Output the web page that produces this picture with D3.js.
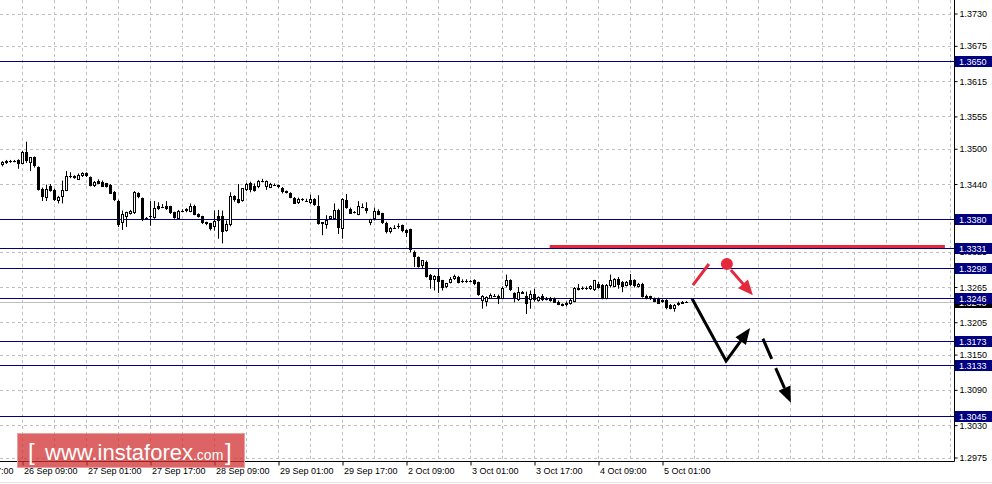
<!DOCTYPE html>
<html><head><meta charset="utf-8">
<script src="https://cdn.jsdelivr.net/npm/d3@7"></script>
<style>html,body{margin:0;padding:0;background:#fff;overflow:hidden}</style>
</head><body><svg id="c" width="992" height="484"></svg>
<script>
// ---------------- DATA ----------------
const opens = [
1.3473,1.3475,1.3479,1.3479,1.3481,1.3474,1.3494,1.3475,1.3486,1.3469,
1.3432,1.3416,1.3437,1.3430,1.3412,1.3418,1.3428,1.3453,1.3453,1.3448,
1.3453,1.3458,1.3452,1.3436,1.3446,1.3444,1.3441,1.3439,1.3426,1.3412,
1.3373,1.3384,1.3390,1.3390,1.3424,1.3416,1.3382,1.3385,1.3382,1.3402,
1.3401,1.3402,1.3402,1.3392,1.3381,1.3395,1.3397,1.3392,1.3403,1.3389,
1.3385,1.3375,1.3373,1.3366,1.3386,1.3386,1.3360,1.3369,1.3419,1.3415,
1.3411,1.3430,1.3441,1.3437,1.3435,1.3446,1.3434,1.3434,1.3439,1.3438,
1.3434,1.3428,1.3425,1.3417,1.3408,1.3414,1.3412,1.3409,1.3414,1.3402,
1.3371,1.3371,1.3380,1.3381,1.3396,1.3364,1.3413,1.3398,1.3392,1.3388,
1.3401,1.3400,1.3373,1.3380,1.3395,1.3390,1.3374,1.3360,1.3366,1.3368,
1.3370,1.3362,1.3363,1.3325,1.3316,1.3300,1.3308,1.3286,1.3278,1.3284,
1.3276,1.3265,1.3272,1.3278,1.3282,1.3275,1.3275,1.3275,1.3276,1.3273,
1.3242,1.3240,1.3246,1.3250,1.3250,1.3245,1.3265,1.3276,1.3254,1.3242,
1.3254,1.3249,1.3242,1.3253,1.3242,1.3250,1.3245,1.3246,1.3245,1.3240,
1.3236,1.3234,1.3236,1.3240,1.3264,1.3263,1.3263,1.3261,1.3259,1.3270,
1.3268,1.3245,1.3265,1.3266,1.3279,1.3273,1.3267,1.3276,1.3276,1.3265,
1.3270,1.3250,1.3245,1.3245,1.3245,1.3239,1.3242,1.3235,1.3228,1.3234,
1.3237,1.3240];
const highs = [
1.3479,1.3481,1.3481,1.3481,1.3482,1.3496,1.3512,1.3486,1.3487,1.3470,
1.3434,1.3439,1.3440,1.3432,1.3420,1.3446,1.3462,1.3460,1.3455,1.3458,
1.3460,1.3460,1.3453,1.3445,1.3448,1.3446,1.3442,1.3440,1.3428,1.3413,
1.3395,1.3393,1.3396,1.3428,1.3426,1.3417,1.3384,1.3411,1.3411,1.3409,
1.3406,1.3411,1.3403,1.3393,1.3396,1.3397,1.3399,1.3407,1.3405,1.3390,
1.3386,1.3376,1.3374,1.3395,1.3396,1.3395,1.3378,1.3426,1.3421,1.3440,
1.3433,1.3442,1.3444,1.3441,1.3447,1.3449,1.3446,1.3442,1.3441,1.3439,
1.3435,1.3429,1.3426,1.3418,1.3417,1.3416,1.3415,1.3422,1.3416,1.3421,
1.3375,1.3387,1.3386,1.3407,1.3398,1.3416,1.3423,1.3400,1.3394,1.3411,
1.3407,1.3409,1.3381,1.3400,1.3397,1.3391,1.3376,1.3367,1.3370,1.3373,
1.3371,1.3363,1.3364,1.3327,1.3317,1.3311,1.3310,1.3287,1.3285,1.3296,
1.3277,1.3272,1.3282,1.3286,1.3284,1.3278,1.3278,1.3277,1.3278,1.3274,
1.3251,1.3249,1.3254,1.3253,1.3252,1.3266,1.3286,1.3278,1.3256,1.3265,
1.3258,1.3257,1.3259,1.3262,1.3249,1.3253,1.3248,1.3248,1.3247,1.3242,
1.3237,1.3240,1.3245,1.3265,1.3270,1.3266,1.3266,1.3268,1.3277,1.3274,
1.3270,1.3270,1.3286,1.3280,1.3282,1.3275,1.3275,1.3287,1.3278,1.3272,
1.3272,1.3252,1.3250,1.3247,1.3247,1.3244,1.3244,1.3236,1.3236,1.3240,
1.3241,1.3241];
const lows = [
1.3470,1.3474,1.3476,1.3477,1.3466,1.3474,1.3476,1.3462,1.3468,1.3429,
1.3411,1.3411,1.3427,1.3411,1.3407,1.3407,1.3428,1.3450,1.3449,1.3447,
1.3452,1.3452,1.3436,1.3435,1.3440,1.3435,1.3434,1.3423,1.3411,1.3367,
1.3362,1.3367,1.3388,1.3389,1.3416,1.3377,1.3380,1.3369,1.3381,1.3396,
1.3399,1.3396,1.3389,1.3381,1.3380,1.3393,1.3392,1.3392,1.3387,1.3383,
1.3372,1.3370,1.3361,1.3361,1.3347,1.3339,1.3359,1.3368,1.3410,1.3407,
1.3410,1.3428,1.3426,1.3427,1.3433,1.3443,1.3430,1.3433,1.3437,1.3433,
1.3424,1.3424,1.3416,1.3406,1.3406,1.3411,1.3410,1.3406,1.3403,1.3371,
1.3353,1.3364,1.3379,1.3380,1.3355,1.3347,1.3398,1.3389,1.3390,1.3387,
1.3399,1.3390,1.3370,1.3378,1.3387,1.3372,1.3356,1.3356,1.3365,1.3364,
1.3358,1.3350,1.3324,1.3299,1.3298,1.3297,1.3281,1.3262,1.3259,1.3255,
1.3259,1.3263,1.3271,1.3277,1.3271,1.3272,1.3272,1.3273,1.3268,1.3250,
1.3228,1.3232,1.3245,1.3248,1.3236,1.3244,1.3264,1.3258,1.3239,1.3241,
1.3253,1.3219,1.3228,1.3240,1.3240,1.3241,1.3242,1.3240,1.3238,1.3234,
1.3232,1.3232,1.3235,1.3239,1.3259,1.3260,1.3260,1.3260,1.3258,1.3262,
1.3244,1.3244,1.3264,1.3265,1.3262,1.3256,1.3266,1.3266,1.3264,1.3264,
1.3247,1.3244,1.3243,1.3239,1.3236,1.3238,1.3227,1.3227,1.3223,1.3233,
1.3236,1.3239];
const closes = [
1.3478,1.3479,1.3479,1.3480,1.3474,1.3494,1.3479,1.3486,1.3470,1.3430,
1.3418,1.3432,1.3429,1.3413,1.3418,1.3430,1.3453,1.3452,1.3450,1.3456,
1.3458,1.3453,1.3437,1.3443,1.3441,1.3436,1.3435,1.3424,1.3412,1.3372,
1.3389,1.3392,1.3395,1.3426,1.3418,1.3379,1.3383,1.3384,1.3399,1.3397,
1.3400,1.3397,1.3390,1.3382,1.3395,1.3396,1.3393,1.3403,1.3388,1.3384,
1.3373,1.3371,1.3362,1.3377,1.3378,1.3358,1.3372,1.3419,1.3412,1.3409,
1.3433,1.3440,1.3429,1.3428,1.3445,1.3446,1.3445,1.3440,1.3439,1.3434,
1.3428,1.3425,1.3417,1.3407,1.3415,1.3414,1.3412,1.3415,1.3404,1.3372,
1.3375,1.3379,1.3385,1.3396,1.3366,1.3415,1.3400,1.3390,1.3391,1.3403,
1.3401,1.3395,1.3380,1.3394,1.3388,1.3373,1.3358,1.3366,1.3366,1.3368,
1.3359,1.3357,1.3327,1.3316,1.3299,1.3310,1.3282,1.3278,1.3284,1.3273,
1.3263,1.3271,1.3279,1.3283,1.3272,1.3275,1.3275,1.3274,1.3269,1.3251,
1.3250,1.3248,1.3252,1.3250,1.3245,1.3264,1.3276,1.3259,1.3245,1.3256,
1.3257,1.3235,1.3253,1.3242,1.3248,1.3243,1.3245,1.3241,1.3239,1.3235,
1.3233,1.3238,1.3242,1.3264,1.3261,1.3263,1.3262,1.3266,1.3276,1.3264,
1.3245,1.3268,1.3276,1.3279,1.3268,1.3265,1.3273,1.3268,1.3265,1.3270,
1.3248,1.3245,1.3249,1.3240,1.3237,1.3243,1.3229,1.3228,1.3235,1.3238,
1.3240,1.3240];

// x-axis: bar index of each labelled hour
const xTickBars = [-11,5,21,37,53,69,85,101,117,133,149,165];
const xTickLabels = ["25 Sep 17:00","26 Sep 09:00","27 Sep 01:00","27 Sep 17:00","28 Sep 09:00",
  "29 Sep 01:00","29 Sep 17:00","2 Oct 09:00","3 Oct 01:00","3 Oct 17:00","4 Oct 09:00","5 Oct 01:00"];
// y-axis price ticks
const yTickValues = [1.3730,1.3675,1.3615,1.3555,1.3500,1.3440,1.3380,1.3325,1.3265,1.3205,1.3150,1.3090,1.3030,1.2975];
// horizontal support / resistance levels
const levelValues = [1.3650,1.3380,1.3331,1.3298,1.3246,1.3173,1.3133,1.3045];
const bidValue = 1.3240;
// red resistance segment [fromBar, toBar], price
const redLevelBars = [136.8, 235.6];
const redLevelValue = 1.3334;
// forecast drawings: [bar, price]
const redStroke = [[172.6,1.3268],[176.6,1.3304]];
const redDot = [181.1,1.3304];
const redArrow = [[182.1,1.3294],[187.6,1.3251]];
const blackArrow = [[172.4,1.3245],[180.9,1.3139],[186.9,1.3195]];
const blackDashArrow = [[190.1,1.3177],[197.1,1.3068]];

// ---------------- CHART ----------------
const W = 992, H = 484, plotR = 954, plotB = 461;
const svg = d3.select("#c");
const FONT = "'Liberation Sans', Arial, sans-serif";
const NAVY = "#000080", RED = "#e6283c", GRID = "#c0c0c0";

const x = d3.scaleLinear().domain([0, 238]).range([2.5, 954.5]);
const y = d3.scaleLinear().domain([1.2975, 1.3730]).range([457.5, 13.5]);

svg.append("rect").attr("width", W).attr("height", H).attr("fill", "#fff");

// grid
const gridBars = d3.range(-3, 238, 8);
svg.append("g").selectAll("line").data(gridBars).join("line")
  .attr("x1", d => x(d)).attr("x2", d => x(d)).attr("y1", 0).attr("y2", plotB)
  .attr("stroke", GRID).attr("stroke-dasharray", "3,3");
svg.append("g").selectAll("line").data(yTickValues).join("line")
  .attr("x1", 0).attr("x2", plotR - 3)
  .attr("y1", d => Math.round(y(d)) + 0.5).attr("y2", d => Math.round(y(d)) + 0.5)
  .attr("stroke", GRID).attr("stroke-dasharray", "3,3");

// bid line
svg.append("line").attr("x1", 0).attr("x2", plotR)
  .attr("y1", Math.round(y(bidValue)) + 0.5).attr("y2", Math.round(y(bidValue)) + 0.5)
  .attr("stroke", GRID);

// level lines
svg.append("g").selectAll("line").data(levelValues).join("line")
  .attr("x1", 0).attr("x2", plotR)
  .attr("y1", d => Math.round(y(d)) + 0.5).attr("y2", d => Math.round(y(d)) + 0.5)
  .attr("stroke", NAVY);

// red resistance
svg.append("line").attr("x1", x(redLevelBars[0])).attr("x2", x(redLevelBars[1]))
  .attr("y1", y(redLevelValue)).attr("y2", y(redLevelValue))
  .attr("stroke", RED).attr("stroke-width", 3);

// candles
const bars = opens.map((o, i) => ({i, o, h: highs[i], l: lows[i], c: closes[i]}));
const gC = svg.append("g");
gC.selectAll("line.w").data(bars).join("line").attr("class", "w")
  .attr("x1", d => x(d.i)).attr("x2", d => x(d.i))
  .attr("y1", d => y(d.h)).attr("y2", d => y(d.l))
  .attr("stroke", "#000").attr("stroke-width", 1);
bars.forEach(d => {
  const yo = y(d.o), yc = y(d.c);
  const top = Math.min(yo, yc), hgt = Math.abs(yo - yc);
  if (hgt < 1.2) {
    gC.append("line").attr("x1", x(d.i) - 1.5).attr("x2", x(d.i) + 1.5)
      .attr("y1", Math.round(yo) + 0.5).attr("y2", Math.round(yo) + 0.5).attr("stroke", "#000");
  } else if (d.c > d.o) {
    gC.append("rect").attr("x", x(d.i) - 1).attr("width", 2)
      .attr("y", Math.round(top) + 0.5).attr("height", Math.max(1, Math.round(hgt) - 1))
      .attr("fill", "#fff").attr("stroke", "#000");
  } else {
    gC.append("rect").attr("x", x(d.i) - 1.5).attr("width", 3)
      .attr("y", Math.round(top)).attr("height", Math.max(1, Math.round(hgt)))
      .attr("fill", "#000");
  }
});

// forecast drawings
function arrowHead(g, p0, p1, color, len, wid) {
  const x0 = x(p0[0]), y0 = y(p0[1]), x1 = x(p1[0]), y1 = y(p1[1]);
  const dx = x1 - x0, dy = y1 - y0, L = Math.hypot(dx, dy);
  const ux = dx / L, uy = dy / L, bx = x1 - ux * len, by = y1 - uy * len;
  g.append("path").attr("d", `M${x1},${y1}L${bx - uy * wid / 2},${by + ux * wid / 2}L${bx + uy * wid / 2},${by - ux * wid / 2}Z`)
    .attr("fill", color);
  return [bx + ux * 2, by + uy * 2];
}
const gA = svg.append("g");
const line = d3.line().x(d => d[0]).y(d => d[1]);
gA.append("path").attr("d", line(redStroke.map(p => [x(p[0]), y(p[1])])))
  .attr("stroke", RED).attr("stroke-width", 3).attr("fill", "none");
gA.append("circle").attr("cx", x(redDot[0])).attr("cy", y(redDot[1])).attr("r", 6).attr("fill", RED);
{
  const e = arrowHead(gA, redArrow[0], redArrow[1], RED, 15, 13);
  gA.append("path").attr("d", line([[x(redArrow[0][0]), y(redArrow[0][1])], e]))
    .attr("stroke", RED).attr("stroke-width", 3).attr("fill", "none");
}
{
  const n = blackArrow.length;
  const e = arrowHead(gA, blackArrow[n - 2], blackArrow[n - 1], "#000", 16, 13);
  const pts = blackArrow.slice(0, n - 1).map(p => [x(p[0]), y(p[1])]).concat([e]);
  gA.append("path").attr("d", line(pts)).attr("stroke", "#000").attr("stroke-width", 3)
    .attr("fill", "none").attr("stroke-linejoin", "miter");
}
{
  const e = arrowHead(gA, blackDashArrow[0], blackDashArrow[1], "#000", 16, 13);
  gA.append("path").attr("d", line([[x(blackDashArrow[0][0]), y(blackDashArrow[0][1])], e]))
    .attr("stroke", "#000").attr("stroke-width", 3).attr("fill", "none").attr("stroke-dasharray", "22,10");
}

// axes lines
svg.append("line").attr("x1", 0).attr("x2", plotR + 0.5).attr("y1", plotB + 0.5).attr("y2", plotB + 0.5).attr("stroke", "#000");
svg.append("line").attr("x1", plotR + 0.5).attr("x2", plotR + 0.5).attr("y1", 0).attr("y2", plotB + 0.5).attr("stroke", "#000");

// right axis
const yAxis = d3.axisRight(y).tickValues(yTickValues).tickFormat(d3.format(".4f")).tickSize(3).tickPadding(3);
const gy = svg.append("g").attr("transform", `translate(${plotR + 0.5},0)`).call(yAxis);
gy.select(".domain").remove();
gy.selectAll(".tick line").attr("stroke", "#000");
gy.selectAll(".tick text").attr("font-family", FONT).attr("font-size", 9).attr("fill", "#000").attr("x", 5).attr("dy", "0.34em");

// bottom axis
const xAxis = d3.axisBottom(x).tickValues(xTickBars).tickFormat((d, i) => xTickLabels[i]).tickSize(4);
const gx = svg.append("g").attr("transform", `translate(0,${plotB + 0.5})`).call(xAxis);
gx.select(".domain").remove();
gx.selectAll(".tick line").attr("stroke", "#000");
gx.selectAll(".tick text").attr("font-family", FONT).attr("font-size", 9).attr("fill", "#000")
  .attr("text-anchor", "start").attr("x", 1).attr("y", 12.5).attr("dy", 0);

// price labels (bid under level boxes)
function priceBox(v, fill) {
  const cy = Math.round(y(v)) + 0.5;
  svg.append("rect").attr("x", plotR + 1).attr("y", cy - 5.5).attr("width", 37).attr("height", 11).attr("fill", fill);
  svg.append("text").attr("x", plotR + 5).attr("y", cy).attr("dy", "0.34em")
    .attr("font-family", FONT).attr("font-size", 9).attr("fill", "#fff").text(d3.format(".4f")(v));
}
priceBox(bidValue, "#000");
levelValues.forEach(v => priceBox(v, NAVY));

// bottom window edge
svg.append("line").attr("x1", 0).attr("x2", W).attr("y1", 482.5).attr("y2", 482.5).attr("stroke", "#e3e3e3");

// logo
const gL = svg.append("g");
gL.append("rect").attr("x", 17.5).attr("y", 433.5).attr("width", 227).attr("height", 34)
  .attr("fill", "rgb(208,48,48)").attr("fill-opacity", 0.75).attr("stroke", "#eba0a0");
gL.append("text").attr("x", 28).attr("y", 460).attr("font-family", FONT).attr("font-size", 24).attr("fill", "#fff").text("[");
const t = gL.append("text").attr("x", 45).attr("y", 459.5).attr("font-family", FONT).attr("fill", "#fff");
t.append("tspan").attr("font-size", 22).text("www.instaforex");
t.append("tspan").attr("font-size", 14).text(".com");
gL.append("text").attr("x", 225).attr("y", 460).attr("font-family", FONT).attr("font-size", 24).attr("fill", "#fff").text("]");
</script></body></html>
